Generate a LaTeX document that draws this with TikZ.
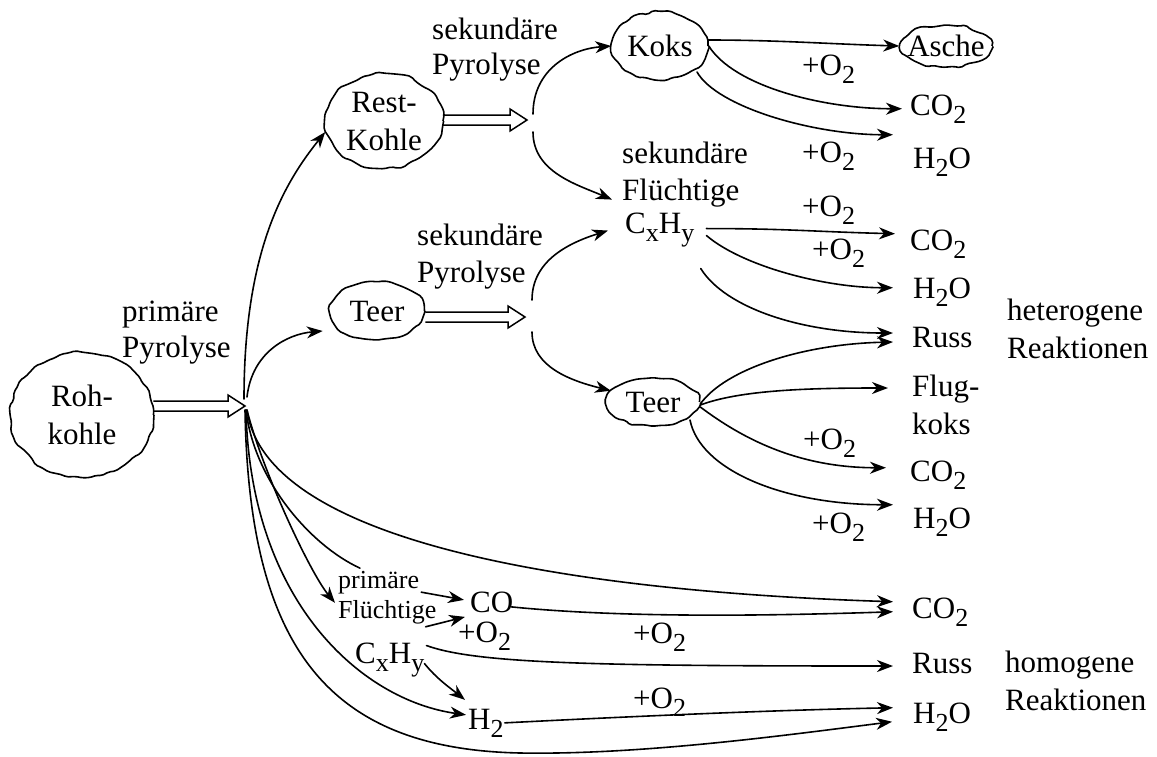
\documentclass[tikz,border=0pt]{standalone}
\usepackage{fontspec}
\setmainfont{Liberation Serif}
\usetikzlibrary{calc,arrows.meta,shapes.geometric,decorations.pathmorphing}
\newcommand\sbs[1]{\raisebox{-8pt}{\fontsize{26}{26}\selectfont #1}}
\newcommand\hollowarrow[2]{%
  \draw[hollow] let \p1=(#1), \p2=(#2) in
    (\x1,{\y1+5pt}) -- ({\x2-17pt},{\y1+5pt}) -- ({\x2-17pt},{\y1+11pt})
    -- (\x2,\y1) -- ({\x2-17pt},{\y1-11pt}) -- ({\x2-17pt},{\y1-5pt}) -- (\x1,{\y1-5pt});}
\begin{document}
\begin{tikzpicture}[x=1pt,y=-1pt,
  every node/.style={inner sep=0pt,font=\fontsize{31}{38}\selectfont},
  cloud/.style={ellipse,draw,line width=1.6pt,inner sep=-12pt,align=center,
     decorate,decoration={random steps,segment length=7pt,amplitude=1.8pt},rounded corners=2pt},
  txt/.style={anchor=base west},
  lbl/.style={anchor=north west,align=left},
  small/.style={font=\fontsize{26}{30}\selectfont},
  arr/.style={line width=1.6pt,line cap=round,-{Stealth[length=16pt,width=12pt,inset=5pt]}},
  ln/.style={line width=1.6pt,line cap=round},
  hollow/.style={line width=1.5pt,line join=miter}]
\useasboundingbox (0,0) rectangle (1157,756);

% nodes
\node[cloud,minimum width=143pt,minimum height=125pt] (roh) at (82,415) {Roh-\\kohle};
\node[lbl,font=\fontsize{31}{36}\selectfont] (pp) at (122,301) {primäre\\Pyrolyse};
\coordinate (hub1) at (245,405);
\node[cloud,minimum width=118pt,minimum height=95pt] (rest) at (384,121) {Rest-\\Kohle};
\node[cloud,minimum width=95pt,minimum height=58pt] (teer1) at (377,311) {Teer};
\node[lbl,font=\fontsize{31}{35}\selectfont] (sp1) at (432,18) {sekundäre\\Pyrolyse};
\node[lbl,font=\fontsize{31}{37}\selectfont] (sp2) at (417,224) {sekundäre\\Pyrolyse};
\coordinate (hub2) at (533,122);
\coordinate (hub3) at (532,318);
\node[cloud,minimum width=96pt,minimum height=68pt] (koks) at (660,46) {Koks};
\node[cloud,minimum width=92pt,minimum height=42pt] (asche) at (946,46) {Asche};
\node[txt] (co2a) at (910,115) {CO\sbs{2}};
\node[txt] (h2oa) at (913,168) {H\sbs{2}O};
\node[txt] (sek2) at (622,163) {sekundäre};
\node[txt] (flu2) at (622,200) {Flüchtige};
\node[txt] (cxhy2) at (625,233) {C\sbs{x}H\sbs{y}};
\node[txt] (co2b) at (910,250) {CO\sbs{2}};
\node[txt] (h2ob) at (913,298) {H\sbs{2}O};
\node[txt] (russa) at (912,347) {Russ};
\node[lbl] (hetero) at (1007,299) {heterogene\\Reaktionen};
\node[cloud,minimum width=93pt,minimum height=48pt] (teer2) at (653,402) {Teer};
\node[lbl] (flugkoks) at (912,375) {Flug-\\koks};
\node[txt] (co2c) at (910,481) {CO\sbs{2}};
\node[txt] (h2oc) at (913,528) {H\sbs{2}O};
\node[txt,small] (pri) at (338,588) {primäre};
\node[txt,small] (flu) at (338,618) {Flüchtige};
\node[txt] (co) at (470,612) {CO};
\node[txt] (cxhy) at (355,663) {C\sbs{x}H\sbs{y}};
\node[txt] (h2) at (468,729) {H\sbs{2}};
\node[txt] (co2d) at (912,618) {CO\sbs{2}};
\node[txt] (russb) at (912,673) {Russ};
\node[txt] (h2od) at (913,723) {H\sbs{2}O};
\node[lbl] (homo) at (1005,651) {homogene\\Reaktionen};
\node[txt] (o2a) at (802,75) {+O\sbs{2}};
\node[txt] (o2b) at (802,162) {+O\sbs{2}};
\node[txt] (o2c) at (802,216) {+O\sbs{2}};
\node[txt] (o2d) at (812,259) {+O\sbs{2}};
\node[txt] (o2e) at (803,449) {+O\sbs{2}};
\node[txt] (o2f) at (812,533) {+O\sbs{2}};
\node[txt] (o2g) at (458,642) {+O\sbs{2}};
\node[txt] (o2h) at (633,643) {+O\sbs{2}};
\node[txt] (o2i) at (633,708) {+O\sbs{2}};

% primary pyrolysis
\hollowarrow{$(roh.east)+(-1,-9)$}{hub1}
\draw[arr] ($(hub1)+(-1,-6)$) .. controls +(0,-150) and +(-40,50) .. ($(rest.west)+(1,11)$);
\draw[arr] ($(hub1)+(2,-8)$) .. controls +(5,-45) and +(-35,3) .. ($(teer1.west)+(-6,20)$);

% Rest-Kohle
\hollowarrow{$(rest.east)+(-1,-1)$}{$(hub2)+(-6,0)$}
\draw[arr] ($(hub2)+(0,-8)$) .. controls +(0,-45) and +(-40,3) .. (koks.west);
\draw[arr] ($(hub2)+(0,10)$) .. controls +(0,40) and +(-35,-15) .. ($(flu2.west)+(-10,7)$);

% Teer 1
\hollowarrow{$(teer1.east)+(0,6)$}{$(hub3)+(-7,0)$}
\draw[arr] ($(hub3)+(0,-18)$) .. controls +(0,-40) and +(-38,12) .. ($(cxhy2.west)+(-17,1)$);
\draw[arr] ($(hub3)+(0,14)$) .. controls +(0,35) and +(-40,-10) .. (teer2.165);

% Koks
\draw[arr] ($(koks.east)+(-1,-6)$) .. controls +(70,0) and +(-70,-2) .. (asche.west);
\draw[arr] (koks.east) .. controls +(25,40) and +(-80,0) .. ($(co2a.west)+(-8,0)$);
\draw[arr] ($(koks)+(37,26)$) .. controls +(20,35) and +(-80,0) .. ($(h2oa.west)+(-20,-27)$);

% secondary volatiles
\draw[arr] ($(cxhy2.east)+(12,-1)$) .. controls +(80,0) and +(-80,-2) .. ($(co2b.west)+(-15,-10)$);
\draw[arr] ($(cxhy2.east)+(12,6)$) .. controls +(35,30) and +(-70,0) .. ($(h2ob.west)+(-20,-4)$);
\coordinate (r0) at ($(cxhy2)+(41,39)$);
\draw[arr] (r0) .. controls +(25,40) and +(-90,0) .. ($(russa.west)+(-19,-4)$);

% Teer 2
\draw[arr] ($(teer2.east)+(0,2)$) .. controls +(25,-35) and +(-90,2) .. ($(russa.west)+(-19,5)$);
\draw[arr] ($(teer2.east)+(0,3)$) .. controls +(40,-15) and +(-80,0) .. ($(flugkoks.north west)+(-24,13)$);
\draw[arr] ($(teer2.east)+(0,5)$) .. controls +(40,30) and +(-90,0) .. ($(co2c.west)+(-24,-7)$);
\draw[arr] ($(teer2)+(37,18)$) .. controls +(10,50) and +(-110,0) .. ($(h2oc.west)+(-20,-17)$);

% hub1 downwards
\draw[arr] ($(hub1)+(2,5)$) .. controls +(18,130) and +(-333,-11) .. ($(co2d.west)+(-19,-10)$);
\draw[ln] ($(hub1)+(1,5)$) .. controls +(8,70) and +(-50,-23) .. ($(pri.west)+(22,-14)$);
\draw[arr] ($(hub1)+(2,5)$) .. controls +(15,60) and +(-25,-30) .. ($(flu.west)+(-3,-9)$);
\draw[arr] ($(hub1)+(1,5)$) .. controls +(4,190) and +(-106,-15) .. ($(h2.west)+(-2,-8)$);
\draw[arr] ($(hub1)+(0,5)$) .. controls +(4,240) and +(-190,-4) .. (520,753)
   .. controls +(120,2) and +(-110,14) .. ($(h2od.west)+(-21,5)$);

% primary volatiles
\draw[arr] ($(pri.east)+(2,10)$) -- ($(co.west)+(-6,-2)$);
\draw[arr] ($(flu.east)+(-11,15)$) -- ($(co.west)+(-5,15)$);
\draw[arr] ($(co.east)+(-2,5)$) .. controls +(100,10) and +(-150,5) .. ($(co2d.west)+(-19,0)$);
\draw[arr] ($(cxhy.east)+(2,-14)$) .. controls +(50,18) and +(-300,0) .. ($(russb.west)+(-19,3)$);
\draw[arr] ($(cxhy.east)+(0,4)$) .. controls +(12,15) and +(-15,-12) .. ($(h2.west)+(-3,-23)$);
\draw[arr] ($(h2.east)+(1,0)$) .. controls +(60,-3) and +(-150,3) .. ($(h2od.west)+(-20,-9)$);
\end{tikzpicture}
\end{document}
